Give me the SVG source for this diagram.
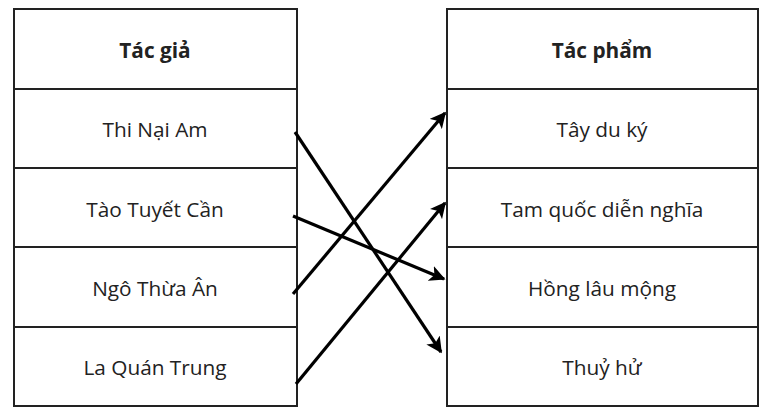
<svg xmlns="http://www.w3.org/2000/svg" width="781" height="418" viewBox="0 0 781 418">
<style>
.cell{fill:#fff;stroke:#222;stroke-width:2}
.t{font-family:"Open Sans","Noto Sans",sans-serif;font-size:20.8px;fill:#222;text-anchor:middle}
.h{font-weight:bold}
.c{stroke:#000;stroke-width:3.2;fill:none;marker-end:url(#ah)}
</style>
<defs>
<marker id="ah" viewBox="0 0 10 10" refX="9" refY="5" markerWidth="5" markerHeight="5" orient="auto" markerUnits="strokeWidth">
<path d="M0,0 L10,5 L0,10 L2.5,5 Z" fill="#000"/>
</marker>
</defs>
<rect width="781" height="418" fill="#fff"/>
<g id="left-table">
<g id="tac-gia"><rect class="cell" x="14" y="9" width="283" height="80"/><text class="t h" x="155" y="58">Tác giả</text></g>
<g id="thi-nai-am"><rect class="cell" x="14" y="89" width="283" height="79"/><text class="t" x="155" y="137">Thi Nại Am</text></g>
<g id="tao-tuyet-can"><rect class="cell" x="14" y="168" width="283" height="79"/><text class="t" x="155" y="217">Tào Tuyết Cần</text></g>
<g id="ngo-thua-an"><rect class="cell" x="14" y="247" width="283" height="80"/><text class="t" x="155" y="296">Ngô Thừa Ân</text></g>
<g id="la-quan-trung"><rect class="cell" x="14" y="327" width="283" height="79"/><text class="t" x="155" y="375">La Quán Trung</text></g>
</g>
<g id="right-table">
<g id="tac-pham"><rect class="cell" x="447" y="9" width="311" height="80"/><text class="t h" x="602" y="58">Tác phẩm</text></g>
<g id="tay-du-ky"><rect class="cell" x="447" y="89" width="311" height="79"/><text class="t" x="602" y="137">Tây du ký</text></g>
<g id="tam-quoc"><rect class="cell" x="447" y="168" width="311" height="79"/><text class="t" x="602" y="217">Tam quốc diễn nghĩa</text></g>
<g id="hong-lau-mong"><rect class="cell" x="447" y="247" width="311" height="80"/><text class="t" x="602" y="296">Hồng lâu mộng</text></g>
<g id="thuy-hu"><rect class="cell" x="447" y="327" width="311" height="79"/><text class="t" x="602" y="375">Thuỷ hử</text></g>
</g>
<g id="connectors">
<line class="c" x1="295" y1="132" x2="441" y2="352"/>
<line class="c" x1="293" y1="216" x2="444" y2="279"/>
<line class="c" x1="293" y1="294" x2="445" y2="113"/>
<line class="c" x1="296" y1="384" x2="445" y2="203"/>
</g>
</svg>
